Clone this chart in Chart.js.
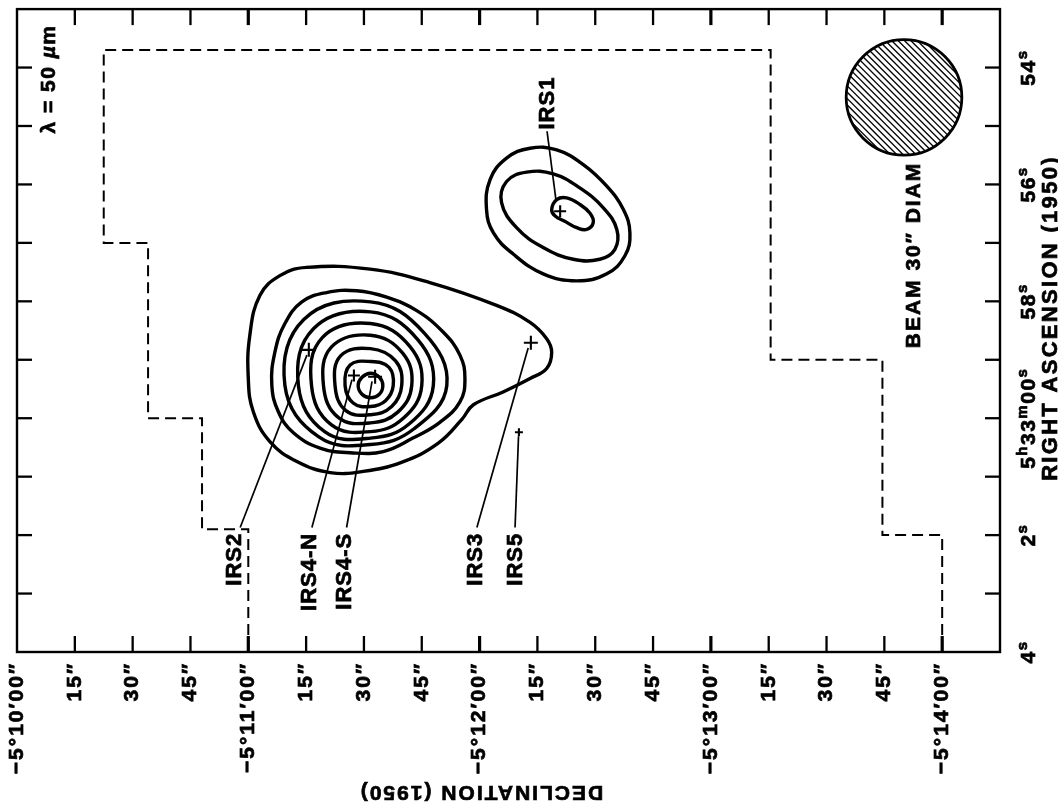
<!DOCTYPE html>
<html>
<head>
<meta charset="utf-8">
<title>OMC-2 50 µm map</title>
<script src="https://cdn.jsdelivr.net/npm/chart.js@4.4.1/dist/chart.umd.min.js"></script>
<style>
  html, body { margin: 0; padding: 0; background: #fff; }
  canvas { display: block; }
</style>
</head>
<body>
<canvas id="map" width="1058" height="807"></canvas>
<script>
// Coordinates: x = arcseconds south of −5°10′00″, y = seconds of time from 5h33m00s (1950).

// Declination axis
const decTickValues = [0, 15, 30, 45, 60, 75, 90, 105, 120, 135, 150, 165, 180, 195, 210, 225, 240];
const decTickLabels = ['−5°10′00″', '15″', '30″', '45″', '−5°11′00″', '15″', '30″', '45″',
  '−5°12′00″', '15″', '30″', '45″', '−5°13′00″', '15″', '30″', '45″', '−5°14′00″'];

// Right ascension axis (letters are set as superscripts)
const raTickValues = [-6, -4, -2, 0, 2, 4];
const raTickLabels = ['54s', '56s', '58s', '5h33m00s', '2s', '4s'];

// 50 µm contours around IRS4 (outermost first), [dec″, RA s]
const irs4Level1 = [[60.0,-0.68],[60.4,-1.42],[63.0,-2.10],[68.2,-2.44],[75.1,-2.58],[91.6,-2.55],[107.1,-2.32],
  [124.4,-1.93],[133.1,-1.64],[137.4,-1.36],[138.7,-1.13],[137.4,-0.85],[133.1,-0.68],[126.1,-0.45],[118.4,-0.23],
  [115.4,0.02],[109.2,0.43],[99.9,0.75],[89.8,0.91],[81.2,0.93],[72.6,0.74],[65.6,0.40],[61.3,-0.11]];
const irs4Level2 = [[66.1,-0.57],[66.9,-1.13],[69.5,-1.62],[73.9,-1.99],[80.3,-2.15],[88.1,-2.18],[95.9,-2.07],
  [103.7,-1.84],[110.6,-1.47],[114.9,-1.08],[116.2,-0.68],[114.9,-0.28],[109.7,0.07],[102.7,0.34],[95.0,0.57],
  [86.4,0.59],[78.6,0.51],[71.7,0.25],[67.8,-0.11]];
const irs4Level3 = [[69.5,-0.56],[74.4,-1.69],[91.7,-1.99],[105.6,-1.46],[111.5,-0.56],[103.0,0.18],[91.7,0.45],[78.3,0.32]];
const irs4Level4 = [[73.0,-0.56],[76.9,-1.53],[91.7,-1.82],[103.9,-1.35],[108.0,-0.56],[101.7,0.10],[91.7,0.34],[79.8,0.23]];
const irs4Level5 = [[76.4,-0.56],[79.2,-1.38],[91.7,-1.62],[101.9,-1.23],[105.0,-0.56],[100.2,0.00],[91.7,0.23],[81.5,0.11]];
const irs4Level6 = [[79.5,-0.56],[81.6,-1.22],[91.7,-1.42],[100.1,-1.11],[102.4,-0.56],[98.7,-0.10],[91.7,0.08],[83.4,-0.01]];
const irs4Level7 = [[82.5,-0.56],[84.0,-1.07],[91.7,-1.19],[98.2,-0.98],[99.8,-0.56],[97.2,-0.20],[91.7,-0.06],[85.3,-0.13]];
const irs4Level8 = [[85.1,-0.56],[86.4,-0.91],[91.7,-0.97],[96.5,-0.87],[97.6,-0.56],[95.6,-0.30],[91.7,-0.20],[87.2,-0.26]];
const irs4Level9 = [[88.5,-0.56],[89.5,-0.70],[91.7,-0.77],[94.0,-0.70],[94.9,-0.56],[94.0,-0.41],[91.7,-0.35],[89.5,-0.41]];

// 50 µm contours around IRS1
const irs1Level1 = [[121.8,-3.57],[122.7,-4.08],[127.0,-4.45],[133.1,-4.62],[140.0,-4.59],[146.9,-4.34],[153.0,-3.97],
  [157.3,-3.57],[159.0,-3.17],[157.7,-2.78],[153.0,-2.47],[145.2,-2.35],[136.5,-2.47],[128.7,-2.81],[123.6,-3.17]];
const irs1Level2 = [[125.7,-3.69],[127.0,-4.05],[132.2,-4.21],[139.1,-4.18],[146.0,-3.94],[152.1,-3.60],[155.6,-3.23],
  [155.1,-2.89],[151.2,-2.72],[144.3,-2.72],[136.5,-2.92],[129.6,-3.26]];
const irs1Level3 = [[138.7,-3.57],[140.0,-3.74],[142.6,-3.77],[146.0,-3.66],[148.6,-3.51],[149.5,-3.35],[147.8,-3.23],
  [145.2,-3.26],[142.1,-3.37],[139.6,-3.46]];

// Edge of the mapped area (dashed)
const coverageDec = [60, 60, 48, 48, 34, 34, 22.5, 22.5, 195.5, 195.5, 224.5, 224.5, 240, 240];
const coverageRA  = [4, 1.9, 1.9, 0, 0, -3, -3, -6.3, -6.3, -1, -1, 2, 2, 4];

// Near-infrared sources
const sourceNames = ['IRS1', 'IRS2', 'IRS3', 'IRS4-N', 'IRS4-S', 'IRS5'];
const sourceDec   = [140.9, 75.7, 133.3, 87.4, 92.9, 130.2];
const sourceRA    = [-3.54, -1.17, -1.29, -0.73, -0.71, 0.24];

// Beam
const beamCentre = [230.1, -5.49];
const beamDiameter = 30; // arcsec

// Callout layout for the source names: leader line ends and text anchor (data units)
const callouts = {
  'IRS1':   { line: [[137.5, -4.91], [139.8, -3.74]], text: [137.7, -4.94], align: 'left' },
  'IRS2':   { line: [[57.9, 1.87], [75.2, -1.08]],    text: [56.6, 1.96],   align: 'right' },
  'IRS4-N': { line: [[76.5, 1.87], [86.9, -0.66]],    text: [76.0, 1.96],   align: 'right' },
  'IRS4-S': { line: [[85.5, 1.87], [92.1, -0.63]],    text: [85.1, 1.96],   align: 'right' },
  'IRS3':   { line: [[119.3, 1.87], [132.6, -1.20]],  text: [119.1, 1.96],  align: 'right' },
  'IRS5':   { line: [[129.2, 1.87], [130.1, 0.31]],   text: [129.4, 1.96],  align: 'right' }
};
const markerSize = { 'IRS1': 6, 'IRS2': 7, 'IRS3': 7, 'IRS4-N': 6, 'IRS4-S': 7, 'IRS5': 4 };

const INK = '#000';
const HIDDEN = 'rgba(0,0,0,0)';
const FONT = '"Liberation Sans", Arial, Helvetica, sans-serif';

// A closed contour: wrap one point on each side so the spline is smooth at the seam,
// and hide the two wrap segments.
function contour(pairs, width) {
  const pts = pairs.map(([d, r]) => ({ x: d, y: r }));
  const n = pts.length;
  const data = [pts[n - 1], ...pts, pts[0], pts[1]];
  const last = data.length - 1;
  return {
    data, showLine: true, borderColor: INK, borderWidth: width || 3, pointRadius: 0,
    tension: 0.42, fill: false, borderJoinStyle: 'round',
    segment: { borderColor: c => (c.p0DataIndex === 0 || c.p1DataIndex === last) ? HIDDEN : undefined }
  };
}

const datasets = [];
[irs4Level1, irs4Level2, irs4Level3, irs4Level4, irs4Level5, irs4Level6, irs4Level7, irs4Level8, irs4Level9,
 irs1Level1, irs1Level2, irs1Level3].forEach(c => datasets.push(contour(c, 3.4)));

datasets.push({
  data: coverageDec.map((d, i) => ({ x: d, y: coverageRA[i] })),
  showLine: true, borderColor: INK, borderWidth: 2, borderDash: [11, 6], pointRadius: 0, tension: 0, fill: false
});

sourceNames.forEach(name => {
  const c = callouts[name];
  datasets.push({
    data: c.line.map(([d, r]) => ({ x: d, y: r })),
    showLine: true, borderColor: INK, borderWidth: 1.7, pointRadius: 0, tension: 0, fill: false
  });
});

datasets.push({
  data: sourceNames.map((n, i) => ({ x: sourceDec[i], y: sourceRA[i] })),
  showLine: false, pointStyle: 'cross', borderColor: INK, borderWidth: 2.1,
  pointRadius: sourceNames.map(n => markerSize[n])
});

// Text is filled and lightly stroked to give the heavy lettering
const TEXT_STROKE = 0.7;

function textAt(ctx, str, x, y, angle, align, baseline, font, spacing) {
  ctx.save();
  ctx.translate(x, y);
  ctx.rotate(angle);
  ctx.font = font;
  ctx.letterSpacing = spacing || '0px';
  ctx.textAlign = align;
  ctx.textBaseline = baseline;
  ctx.lineWidth = TEXT_STROKE;
  ctx.fillText(str, 0, 0);
  ctx.strokeText(str, 0, 0);
  ctx.restore();
}

function runsAt(ctx, runs, x, y, angle, spacing) {
  ctx.save();
  ctx.translate(x, y);
  ctx.rotate(angle);
  ctx.letterSpacing = spacing || '0px';
  ctx.textAlign = 'left';
  ctx.textBaseline = 'alphabetic';
  ctx.lineWidth = TEXT_STROKE;
  let total = 0;
  const widths = runs.map(r => { ctx.font = r.font; const w = ctx.measureText(r.t).width; total += w; return w; });
  let pos = -total / 2;
  runs.forEach((r, i) => {
    ctx.font = r.font;
    ctx.fillText(r.t, pos, -(r.rise || 0));
    ctx.strokeText(r.t, pos, -(r.rise || 0));
    pos += widths[i];
  });
  ctx.restore();
}

const mapFrame = {
  id: 'mapFrame',
  afterDraw(chart) {
    const { ctx, chartArea: a, scales: { x, y } } = chart;
    ctx.save();
    ctx.strokeStyle = INK;
    ctx.fillStyle = INK;
    ctx.lineCap = 'butt';

    // beam, hatched
    const cx = x.getPixelForValue(beamCentre[0]);
    const cy = y.getPixelForValue(beamCentre[1]);
    const r = x.getPixelForValue(beamCentre[0] + beamDiameter / 2) - cx;
    ctx.save();
    ctx.beginPath(); ctx.arc(cx, cy, r, 0, Math.PI * 2); ctx.clip();
    ctx.lineWidth = 1.3;
    for (let k = -2 * r; k <= 2 * r; k += 6.4) {
      ctx.beginPath(); ctx.moveTo(cx + k - r, cy - r); ctx.lineTo(cx + k + r, cy + r); ctx.stroke();
    }
    ctx.restore();
    ctx.beginPath(); ctx.arc(cx, cy, r, 0, Math.PI * 2); ctx.lineWidth = 2.8; ctx.stroke();

    // frame
    ctx.lineWidth = 2.4;
    ctx.strokeRect(a.left, a.top, a.right - a.left, a.bottom - a.top);

    // inward ticks on all four sides
    const seg = (x1, y1, x2, y2) => { ctx.beginPath(); ctx.moveTo(x1, y1); ctx.lineTo(x2, y2); ctx.stroke(); };
    x.ticks.forEach(t => {
      if (t.value <= x.min || t.value >= x.max) return;
      const p = x.getPixelForValue(t.value);
      ctx.lineWidth = t.value % 60 === 0 ? 3.2 : 2.3;
      seg(p, a.bottom, p, a.bottom - 16);
      seg(p, a.top, p, a.top + 16);
    });
    y.ticks.forEach(t => {
      if (t.value <= y.min || t.value >= y.max) return;
      const p = y.getPixelForValue(t.value);
      ctx.lineWidth = 2.3;
      seg(a.left, p, a.left + 15, p);
      seg(a.right, p, a.right - 15, p);
    });

    const up = -Math.PI / 2;
    const bold21 = 'bold 21px ' + FONT;

    // declination tick labels
    decTickValues.forEach((v, i) => {
      textAt(ctx, decTickLabels[i], x.getPixelForValue(v), a.bottom + 10, up, 'right', 'middle', bold21, '2px');
    });
    textAt(ctx, 'DECLINATION (1950)', 481, 792, Math.PI, 'center', 'middle', bold21, '2px');

    // right ascension tick labels with superscript units
    raTickValues.forEach((v, i) => {
      const runs = (raTickLabels[i].match(/\d+|[a-z]+/g) || []).map(part => /\d/.test(part)
        ? { t: part, font: 'bold 21px ' + FONT }
        : { t: part, font: 'bold 15px ' + FONT, rise: 8 });
      runsAt(ctx, runs, a.right + 35, y.getPixelForValue(v), up, '1.5px');
    });
    textAt(ctx, 'RIGHT ASCENSION (1950)', 1057, 318, up, 'center', 'alphabetic', 'bold 22px ' + FONT, '2.3px');

    // wavelength and beam notes
    runsAt(ctx, [
      { t: 'λ = 50 ', font: bold21 },
      { t: 'µ', font: 'italic bold 21px ' + FONT },
      { t: 'm', font: bold21 }
    ], a.left + 38, 79, up, '1.5px');
    textAt(ctx, 'BEAM 30″ DIAM', 920, 255, up, 'center', 'alphabetic', bold21, '2px');

    // source names
    sourceNames.forEach(name => {
      const c = callouts[name];
      textAt(ctx, name, x.getPixelForValue(c.text[0]), y.getPixelForValue(c.text[1]), up,
        c.align, 'middle', 'bold 22px ' + FONT, '1px');
    });

    ctx.restore();
  }
};

new Chart(document.getElementById('map'), {
  type: 'scatter',
  data: { datasets },
  options: {
    responsive: false,
    animation: false,
    events: [],
    layout: { padding: { left: 17, top: 5, right: 58, bottom: 155 } },
    plugins: { legend: { display: false }, tooltip: { enabled: false } },
    scales: {
      x: {
        type: 'linear', position: 'bottom', min: 0, max: 255,
        ticks: { stepSize: 15, display: false },
        grid: { display: false, drawTicks: false },
        border: { display: false }
      },
      y: {
        type: 'linear', position: 'right', min: -7, max: 4, reverse: true,
        ticks: { stepSize: 1, display: false },
        grid: { display: false, drawTicks: false },
        border: { display: false }
      }
    }
  },
  plugins: [mapFrame]
});
</script>
</body>
</html>
